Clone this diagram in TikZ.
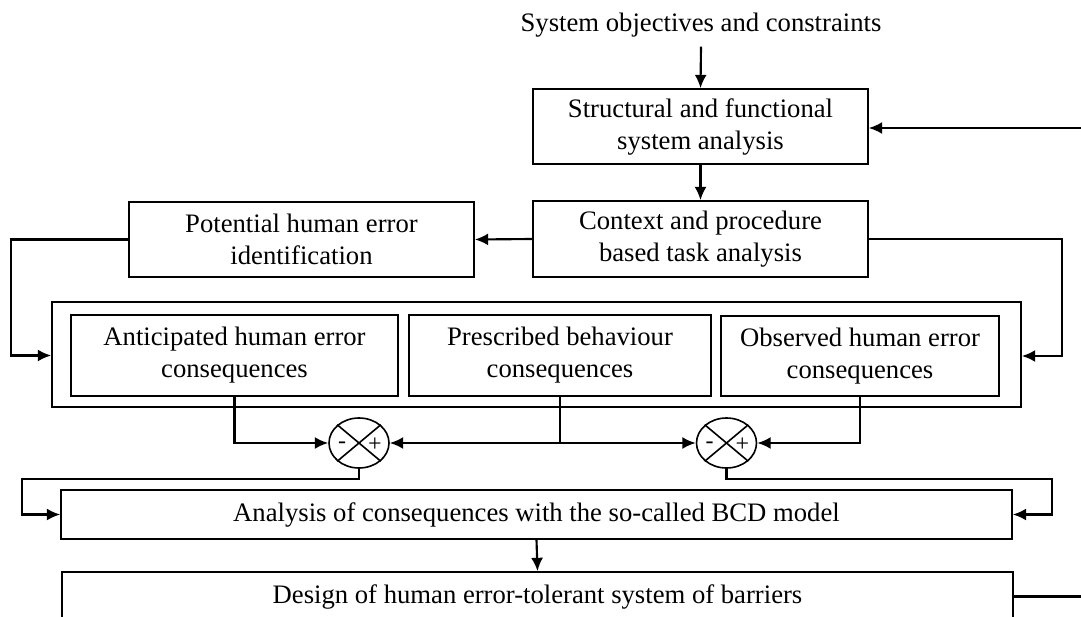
\documentclass[tikz,border=0pt]{standalone}
\usepackage{fontspec}
\setmainfont{Liberation Serif}
\usepackage{tikz}
\usetikzlibrary{calc,positioning,arrows.meta,shapes.geometric}

\tikzset{
	block/.style={draw, line width=0.6pt, align=center, inner sep=0pt},
	sumnode/.style={draw, ellipse, line width=0.6pt, inner sep=0pt, minimum width=22.5pt, minimum height=18.75pt},
	flow/.style={line width=0.8pt, -{Latex[length=5pt,width=4.5pt]}},
	wire/.style={line width=0.8pt}
}

\begin{document}
\begin{tikzpicture}[x=0.375pt, y=-0.375pt]
	\useasboundingbox (0,0) rectangle (1081,617);
	\clip (0,0) rectangle (1081,617);

	% Analysis chain at the top
	\node (sysobj) at (701,25) {System objectives and constraints};
	\node [block, minimum width=125.6pt, minimum height=28.1pt] (struct) at (700.5,126.5) {Structural and functional\\system analysis};
	\node [block, minimum width=125.6pt, minimum height=28.5pt] (context) at (700.5,239) {Context and procedure\\based task analysis};
	\node [block, minimum width=129.4pt, minimum height=28.1pt] (potential) at (301.5,239.5) {Potential human error\\identification};

	% Consequence boxes
	\node [block, minimum width=363.4pt, minimum height=39.4pt] (big) at (536.5,354.5) {};
	\node [block, minimum width=122.6pt, minimum height=30.4pt] (antic) at (234.5,355.5) {Anticipated human error\\consequences};
	\node [block, minimum width=113.25pt, minimum height=30.4pt] (prescr) at (560,355.5) {Prescribed behaviour\\consequences};
	\node [block, minimum width=104.25pt, minimum height=30pt] (observ) at (860,356) {Observed human error\\consequences};

	% Comparators
	\node [sumnode] (c1) at (359,443) {};
	\draw [line width=0.6pt] (c1.north west) -- (c1.south east);
	\draw [line width=0.6pt] (c1.north east) -- (c1.south west);
	\node [font=\small, inner sep=0pt] (c1m) at (342,445) {-};
	\node [font=\small, inner sep=0pt] (c1p) at (375,445) {+};
	\node [sumnode] (c2) at (726.5,443) {};
	\draw [line width=0.6pt] (c2.north west) -- (c2.south east);
	\draw [line width=0.6pt] (c2.north east) -- (c2.south west);
	\node [font=\small, inner sep=0pt] (c2m) at (709.5,445) {-};
	\node [font=\small, inner sep=0pt] (c2p) at (742.5,445) {+};

	% BCD model and barriers
	\node [block, minimum width=356.6pt, minimum height=18.4pt] (analysis) at (536.5,514.5) {Analysis of consequences with the so-called BCD model};
	\node [block, minimum width=356.6pt, minimum height=18.4pt] (design) at (537.5,596.5) {Design of human error-tolerant system of barriers};

	% Free ends and bends
	\coordinate (fbin) at (1081,128);
	\coordinate (desout) at (1081,596.5);
	\coordinate (lrail) at (22,479);
	\coordinate (rrail) at (1052,479);

	% Connectors
	\draw [flow] (sysobj.south) -- (struct.north);
	\draw [flow] (struct.south) -- (context.north);
	\draw [flow] (fbin) -- (fbin -| struct.east);
	\draw [flow] (context.west) -- (potential.east);
	\draw [flow] (potential.west) -- ++(-117,0) |- (antic -| big.west);
	\draw [flow] (context.east) -- ++(193,0) |- (observ -| big.east);
	\draw [flow] (antic.south) |- (c1.west);
	\draw [flow] (prescr.south) |- (c1.east);
	\draw [flow] (prescr.south) |- (c2.west);
	\draw [flow] (observ.south) |- (c2.east);
	\draw [flow] (c1.south) |- (lrail) |- (analysis.west);
	\draw [flow] (c2.south) |- (rrail) |- (analysis.east);
	\draw [flow] (analysis.south) -- (design.north);
	\draw [wire] (design.east) -- (desout);
\end{tikzpicture}
\end{document}
